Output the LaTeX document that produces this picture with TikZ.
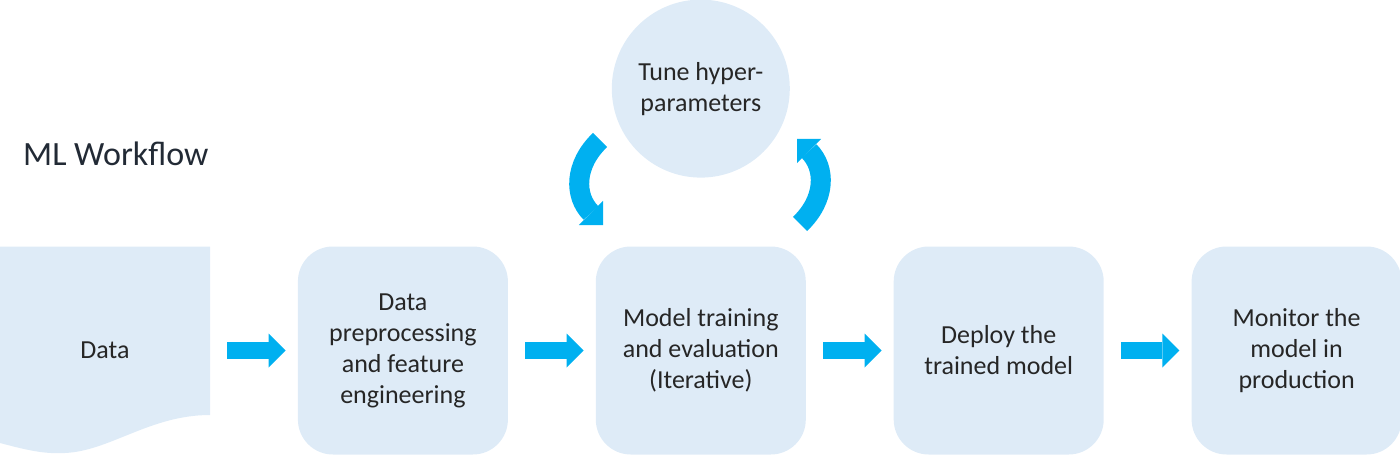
\documentclass[tikz,border=0pt]{standalone}
\usepackage{fontspec}
\setmainfont{Carlito}
\usetikzlibrary{positioning, arrows.meta}
\definecolor{stagefill}{HTML}{DEEBF7}
\definecolor{flowblue}{HTML}{00B0F0}
\definecolor{stagetext}{HTML}{262626}
\definecolor{titletext}{HTML}{222A35}

\begin{document}
\begin{tikzpicture}[x=1pt, y=1pt, node distance=87.5pt,
  stage/.style={fill=stagefill, rounded corners=35pt, minimum width=210pt, minimum height=208pt,
    inner sep=0pt, align=center, text=stagetext, font=\fontsize{26}{31}\selectfont},
  flowarrow/.style={flowblue, line width=17pt, -{Triangle[length=17pt, width=34pt, line width=0pt]},
    shorten <=17pt, shorten >=12pt},
  cyclearrow/.style={flowblue, line width=20pt, -{Triangle[length=17pt, width=34pt, line width=0pt]}}]
\useasboundingbox (0,0) rectangle (1400,456);
% data sheet with wavy bottom
\fill[stagefill] (0,209.5) -- (210,209.5) -- (210,41)
  .. controls (150,41) and (110,5) .. (65,3)
  .. controls (45,2) and (30,5) .. (0,13) -- cycle;
\node[stage, fill=none, rounded corners=0pt] (data) at (105,105.5) {Data};
\node[stage, right=of data] (prep) {Data\\preprocessing\\and feature\\engineering};
\node[stage, right=of prep] (train) {Model training\\and evaluation\\(Iterative)};
\node[stage, right=of train] (deploy) {Deploy the\\trained model};
\node[stage, right=of deploy] (monitor) {Monitor the\\model in\\production};
\node[stage, circle, minimum size=178pt, above=68.5pt of train] (tune) {Tune hyper-\\parameters};
\node[anchor=west, inner sep=0pt, text=titletext, font=\fontsize{34}{41}\selectfont] (title) at (23,302) {ML Workflow};

\draw[flowarrow] (data) -- (prep);
\draw[flowarrow] (prep) -- (train);
\draw[flowarrow] (train) -- (deploy);
\draw[flowarrow] (deploy) -- (monitor);

% loop through the tuning step
\coordinate (tune out) at (600,316);
\coordinate (tune in) at (603,231);
\coordinate (train out) at (800,232);
\coordinate (train in) at (797,317);
\draw[cyclearrow] (tune out) .. controls (574,291) and (574,260) .. (tune in);
\draw[cyclearrow] (train out) .. controls (826,257) and (826,288) .. (train in);
\end{tikzpicture}
\end{document}
